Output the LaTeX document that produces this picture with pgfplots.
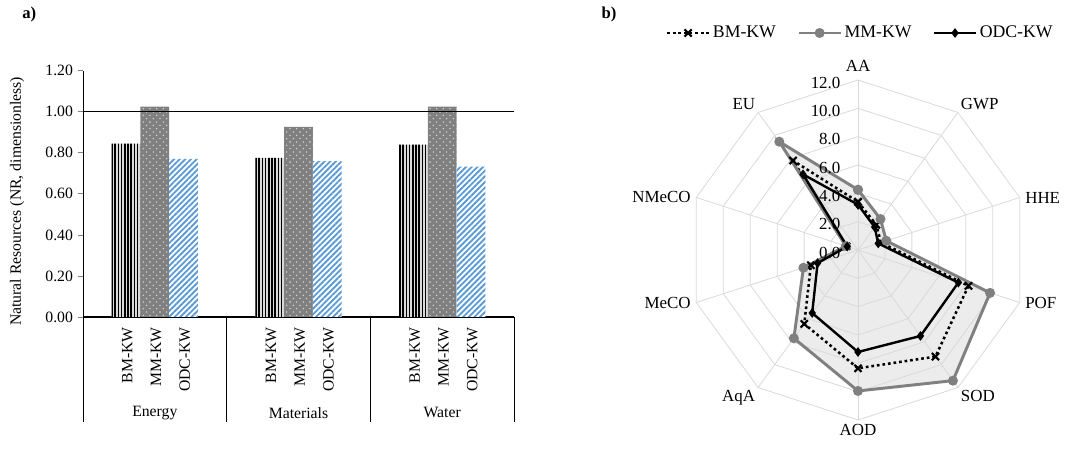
\documentclass[border=0pt]{standalone}
\usepackage{pgfplots}
\pgfplotsset{compat=1.18}
\usepgfplotslibrary{polar}
\usetikzlibrary{patterns.meta}
\usepackage{fontspec}
\setmainfont{Liberation Serif}
\definecolor{odcblue}{RGB}{91,155,213}
\definecolor{mmgray}{RGB}{128,128,128}
\definecolor{gridgray}{RGB}{217,217,217}
\definecolor{fillgray}{RGB}{236,236,236}
\begin{document}
\begin{tikzpicture}[font=\fontsize{11.8}{14}\selectfont]
\useasboundingbox (0,0) rectangle (798.75pt,339pt);
% panel labels
\node[font=\fontsize{12.5}{14}\selectfont\bfseries] at (22pt,327.75pt) {a)};
\node[font=\fontsize{12.5}{14}\selectfont\bfseries] at (456.75pt,327.75pt) {b)};
\node[rotate=90] at (12.75pt,188pt) {Natural Resources (NR, dimensionless)};
% ---------------- bar chart ----------------
\begin{axis}[
  at={(62.25pt,101.25pt)}, anchor=south west,
  scale only axis, width=323.25pt, height=184.7pt,
  xmin=-0.5, xmax=2.5, ymin=0, ymax=1.2,
  ybar, bar width=0.2,
  axis x line*=bottom, axis y line*=left,
  x axis line style={-, line width=1.1pt},
  y axis line style={-, line width=0.6pt},
  ytick={0,0.2,0.4,0.6,0.8,1.0,1.2},
  yticklabel style={/pgf/number format/.cd, fixed, fixed zerofill, precision=2, assume math mode=true},
  ytick style={line width=0.6pt},
  tick align=outside, major tick length=4pt,
  xtick={-0.2,0,0.2,0.8,1,1.2,1.8,2,2.2},
  xticklabels={BM-KW,MM-KW,ODC-KW,BM-KW,MM-KW,ODC-KW,BM-KW,MM-KW,ODC-KW},
  xticklabel style={rotate=90, anchor=east, inner sep=0pt, xshift=-3.5pt, yshift=-1pt},
  x tick style={draw=none},
  clip=false,
]
\addplot[bar shift=0pt, draw=none, fill=gray!30,
  postaction={pattern color=black, pattern={Lines[angle=90,distance=2.4pt,line width=1.1pt]}}]
  coordinates {(-0.2,0.845) (0.8,0.775) (1.8,0.840)};
\addplot[bar shift=0pt, draw=none, fill=mmgray,
  postaction={pattern color=gray!30, pattern={Dots[distance=5pt,radius=0.6pt]}},
  postaction={pattern color=gray!30, pattern={Dots[distance=5pt,radius=0.6pt,xshift=2.5pt,yshift=2.5pt]}}]
  coordinates {(0,1.025) (1,0.927) (2,1.025)};
\addplot[bar shift=0pt, draw=none, fill=white,
  postaction={pattern color=odcblue, pattern={Lines[angle=45,distance=3pt,line width=1.4pt]}}]
  coordinates {(0.2,0.770) (1.2,0.760) (2.2,0.733)};
\draw[black, line width=0.8pt] (axis cs:-0.5,1) -- (axis cs:2.5,1);
\draw[black, line width=0.6pt] (axis cs:-0.5,0) -- ++(0pt,-78.5pt);
\draw[black, line width=0.6pt] (axis cs:0.5,0) -- ++(0pt,-78.5pt);
\draw[black, line width=0.6pt] (axis cs:1.5,0) -- ++(0pt,-78.5pt);
\draw[black, line width=0.6pt] (axis cs:2.5,0) -- ++(0pt,-78.5pt);
\node at (axis cs:0,0) [yshift=-71.8pt] {Energy};
\node at (axis cs:1,0) [yshift=-71.8pt] {Materials};
\node at (axis cs:2,0) [yshift=-71.8pt] {Water};
\end{axis}
% ---------------- radar chart ----------------
\begin{polaraxis}[
  at={(643.5pt,151.5pt)}, anchor=center,
  scale only axis, width=255pt, height=255pt,
  ymin=0, ymax=12,
  hide axis, clip=false,
  font=\fontsize{12.7}{15}\selectfont,
  every node/.append style={font=\fontsize{12.7}{15}\selectfont},
  legend style={at={(0.5,1)}, anchor=center, yshift=35.25pt, xshift=2pt,
    draw=none, fill=none, legend columns=3,
    /tikz/every even column/.append style={column sep=14pt},
    font=\fontsize{13.3}{15}\selectfont},
  legend image code/.code={\draw[mark repeat=2,mark phase=2,#1] plot coordinates {(0cm,0cm) (0.55cm,0cm) (1.1cm,0cm)};},
]
% shaded area (MM-KW)
\addplot[fill=fillgray, draw=none, forget plot] coordinates {
 (90,4.25) (54,2.7) (18,2.1) (-18,9.8) (-54,11.4) (-90,9.95) (-126,7.7) (-162,4.05) (162,0.9) (126,9.45) (90,4.25)};
% grid polygons
\pgfplotsinvokeforeach{2,4,6,8,10,12}{
  \addplot[gridgray, line width=0.6pt, forget plot] coordinates {
   (90,#1) (54,#1) (18,#1) (-18,#1) (-54,#1) (-90,#1) (-126,#1) (-162,#1) (162,#1) (126,#1) (90,#1)};
}
\pgfplotsinvokeforeach{90,54,18,-18,-54,-90,-126,-162,162,126}{
  \addplot[gridgray, line width=0.6pt, forget plot] coordinates {(#1,0) (#1,12)};
}
% data
\addplot[black, line width=1.9pt, dash pattern=on 2pt off 2.2pt,
  mark=x, mark size=3.8pt, mark options={solid, line width=1.6pt}]
  coordinates {(90,3.4) (54,2.2) (18,1.7) (-18,8.2) (-54,9.3) (-90,8.35) (-126,6.45) (-162,3.5) (162,0.85) (126,7.8) (90,3.4)};
\addlegendentry{BM-KW}
\addplot[mmgray, line width=2.2pt, mark=*, mark size=2.6pt, mark options={solid}]
  coordinates {(90,4.25) (54,2.7) (18,2.1) (-18,9.8) (-54,11.4) (-90,9.95) (-126,7.7) (-162,4.05) (162,0.9) (126,9.45) (90,4.25)};
\addlegendentry{MM-KW}
\addplot[black, line width=1.8pt, mark=diamond*, mark size=2.2pt, mark options={solid}]
  coordinates {(90,3.2) (54,2.0) (18,1.5) (-18,7.45) (-54,7.5) (-90,7.2) (-126,5.5) (-162,3.0) (162,0.8) (126,6.6) (90,3.2)};
\addlegendentry{ODC-KW}
% radial tick labels
\node[anchor=east, inner sep=0pt, xshift=-13pt, yshift=-2pt] at (axis cs:90,0) {0.0};
\node[anchor=east, inner sep=0pt, xshift=-13pt, yshift=-2pt] at (axis cs:90,2) {2.0};
\node[anchor=east, inner sep=0pt, xshift=-13pt, yshift=-2pt] at (axis cs:90,4) {4.0};
\node[anchor=east, inner sep=0pt, xshift=-13pt, yshift=-2pt] at (axis cs:90,6) {6.0};
\node[anchor=east, inner sep=0pt, xshift=-13pt, yshift=-2pt] at (axis cs:90,8) {8.0};
\node[anchor=east, inner sep=0pt, xshift=-13pt, yshift=-2pt] at (axis cs:90,10) {10.0};
\node[anchor=east, inner sep=0pt, xshift=-13pt, yshift=-2pt] at (axis cs:90,12) {12.0};
% category labels
\node[anchor=south, inner sep=2pt, yshift=4pt] at (axis cs:90,12) {AA};
\node[anchor=south west, inner sep=2pt] at (axis cs:54,12) {GWP};
\node[anchor=west, inner sep=4pt] at (axis cs:18,12) {HHE};
\node[anchor=west, inner sep=4pt] at (axis cs:-18,12) {POF};
\node[anchor=north west, inner sep=2pt] at (axis cs:-54,12) {SOD};
\node[anchor=north, inner sep=3pt] at (axis cs:-90,12) {AOD};
\node[anchor=north east, inner sep=2pt] at (axis cs:-126,12) {AqA};
\node[anchor=east, inner sep=4pt] at (axis cs:-162,12) {MeCO};
\node[anchor=east, inner sep=4pt] at (axis cs:162,12) {NMeCO};
\node[anchor=south east, inner sep=2pt] at (axis cs:126,12) {EU};
\end{polaraxis}
\end{tikzpicture}
\end{document}
